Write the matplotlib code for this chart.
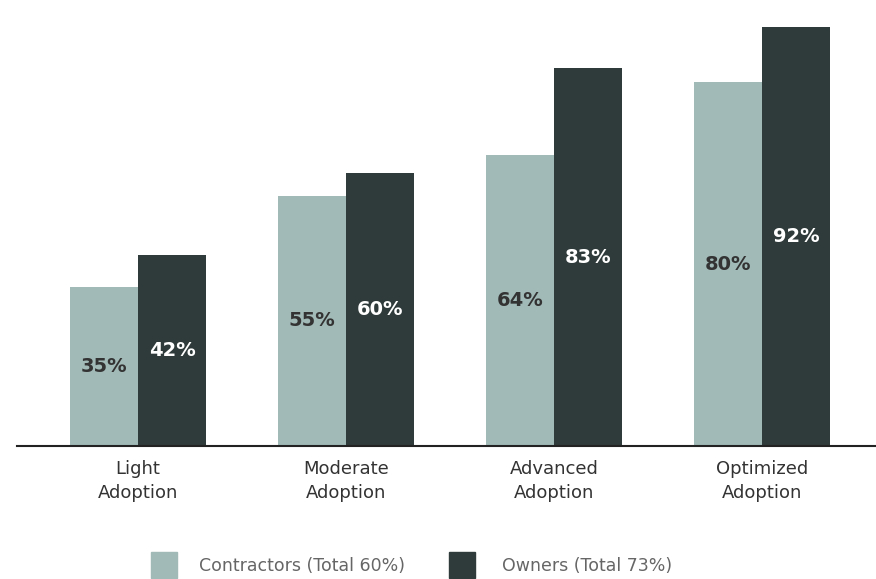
import numpy as np
import matplotlib.pyplot as plt
from matplotlib.patches import Rectangle

plt.rcParams['font.family'] = ['DejaVu Sans']

# Adoption levels and share of each group
categories = ['Light\nAdoption', 'Moderate\nAdoption', 'Advanced\nAdoption', 'Optimized\nAdoption']
contractors = [35, 55, 64, 80]
owners = [42, 60, 83, 92]
legend_labels = ['Contractors (Total 60%)', 'Owners (Total 73%)']

light = '#a1bab7'
dark = '#2f3b3a'

fig = plt.figure(figsize=(8.76, 5.79), dpi=100)
ax = fig.add_axes([17 / 876, 133 / 579, 1 - 17 / 876, 446 / 579])

x = np.arange(len(categories))
w = 68 / 208
b1 = ax.bar(x - w / 2, contractors, w, color=light)
b2 = ax.bar(x + w / 2, owners, w, color=dark)

for bars, vals, col in [(b1, contractors, '#333333'), (b2, owners, 'white')]:
    for bar, v in zip(bars, vals):
        ax.text(bar.get_x() + bar.get_width() / 2, v / 2, f'{v}%',
                ha='center', va='center', color=col, fontsize=14, fontweight='bold')

ax.set_xlim(-121 / 208, 738 / 208)
ax.set_ylim(0, 446 / 4.55)
ax.set_yticks([])
ax.set_xticks(x)
ax.set_xticklabels(categories, fontsize=13, color='#333333', linespacing=1.45)
ax.tick_params(axis='x', length=0, pad=10)
for s in ['top', 'right', 'left']:
    ax.spines[s].set_visible(False)
ax.spines['bottom'].set_color('#222222')
ax.spines['bottom'].set_linewidth(1.5)

# legend drawn by hand below the axis
for x0, x_txt, col, lab in [(151, 199, light, legend_labels[0]), (449, 502, dark, legend_labels[1])]:
    fig.patches.append(Rectangle((x0 / 876, 1 - 578 / 579), 26 / 876, 26 / 579,
                                 transform=fig.transFigure, color=col))
    fig.text(x_txt / 876, 1 - 566 / 579, lab, fontsize=12.5, color='#666666', va='center')

fig.savefig('out.png', dpi=100)
